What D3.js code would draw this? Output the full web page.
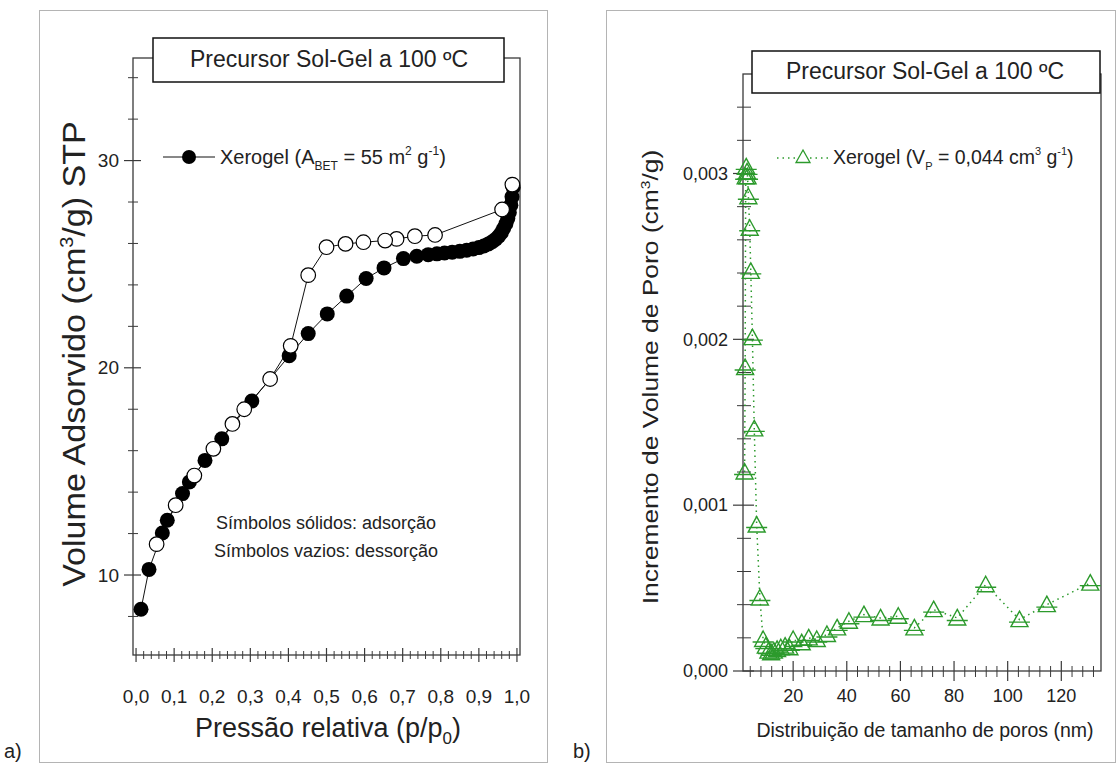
<!DOCTYPE html>
<html>
<head>
<meta charset="utf-8">
<script src="https://cdn.jsdelivr.net/npm/d3@7"></script>
<style>
  body { margin: 0; background: #fff; }
  text { font-family: "Liberation Sans", Arial, sans-serif; fill: #222; }
</style>
</head>
<body>
<div id="chart"></div>
<script>
// ---- data, panel a: N2 isotherm (relative pressure, volume)
var adsP = [0.013, 0.034, 0.069, 0.082, 0.122, 0.140, 0.181, 0.225, 0.304, 0.402, 0.452, 0.502,
            0.553, 0.604, 0.651, 0.702, 0.737, 0.767, 0.790, 0.810, 0.830, 0.850, 0.868, 0.885,
            0.900, 0.913, 0.925, 0.935, 0.944, 0.952, 0.959, 0.965, 0.971, 0.976, 0.980, 0.984,
            0.987, 0.990];
var adsV = [8.35, 10.27, 12.03, 12.64, 13.93, 14.49, 15.53, 16.57, 18.40, 20.58, 21.65, 22.60,
            23.46, 24.31, 24.82, 25.27, 25.38, 25.46, 25.50, 25.54, 25.58, 25.62, 25.67, 25.73,
            25.80, 25.88, 25.98, 26.08, 26.20, 26.35, 26.52, 26.72, 26.95, 27.20, 27.50, 27.85,
            28.25, 28.70];
var desP = [0.988, 0.961, 0.785, 0.732, 0.684, 0.654, 0.597, 0.550, 0.500, 0.452, 0.406, 0.352,
            0.284, 0.253, 0.203, 0.153, 0.104, 0.054];
var desV = [28.84, 27.64, 26.41, 26.35, 26.22, 26.14, 26.06, 25.98, 25.82, 24.47, 21.06, 19.46,
            18.00, 17.29, 16.09, 14.80, 13.37, 11.49];

// ---- data, panel b: pore size distribution
var poreD = [1.9, 2.1, 2.3, 2.5, 2.8, 3.0, 3.3, 3.8, 4.2, 4.8, 5.5, 6.4, 7.6, 8.8, 9.8, 10.8,
             11.8, 12.8, 14.0, 15.4, 17.0, 18.6, 20.0, 23.2, 25.8, 28.8, 32.6, 36.4, 40.8, 46.4,
             52.6, 59.2, 65.2, 72.4, 81.2, 91.8, 104.4, 114.6, 130.8];
var poreV = [0.00120, 0.00183, 0.00298, 0.00304, 0.00301, 0.00298, 0.00286, 0.00267, 0.00241,
             0.00201, 0.00146, 0.00088, 0.00044, 0.00019, 0.00015, 0.00012, 0.00011, 0.00012,
             0.00013, 0.00014, 0.00015, 0.00014, 0.00019, 0.00017, 0.00020, 0.00019, 0.00022,
             0.00026, 0.00030, 0.00034, 0.00032, 0.00033, 0.00026, 0.00037, 0.00032, 0.00052,
             0.00031, 0.00040, 0.00053];

// tick labels
var xTicksA = [0, 0.1, 0.2, 0.3, 0.4, 0.5, 0.6, 0.7, 0.8, 0.9, 1.0];
var yTicksA = [10, 20, 30];
var xTicksB = [20, 40, 60, 80, 100, 120];
var yTicksB = [0, 0.001, 0.002, 0.003];

var green = "#2c9a2c";
var comma = s => s.replace(".", ",");

var svg = d3.select("#chart")
  .append("svg")
    .attr("width", 1118)
    .attr("height", 766);

// panel frames (grey boxes)
svg.append("rect").attr("x", 39.5).attr("y", 10.5).attr("width", 508).attr("height", 752)
  .attr("fill", "none").attr("stroke", "#b4b4b4");
svg.append("rect").attr("x", 606.5).attr("y", 10.5).attr("width", 509).attr("height", 752)
  .attr("fill", "none").attr("stroke", "#b4b4b4");
svg.append("text").attr("x", 4).attr("y", 758).style("font-size", "20px").text("a)");
svg.append("text").attr("x", 573).attr("y", 758).style("font-size", "20px").text("b)");

// =================== panel a ===================
var xA = d3.scaleLinear().domain([-0.008, 1.008]).range([133, 520]);
var yA = d3.scaleLinear().domain([6.14, 34.95]).range([655, 58]);

var gA = svg.append("g");
gA.append("rect")
  .attr("x", xA.range()[0]).attr("y", yA.range()[1])
  .attr("width", xA.range()[1] - xA.range()[0])
  .attr("height", yA.range()[0] - yA.range()[1])
  .attr("fill", "none").attr("stroke", "#3a3a3a").attr("stroke-width", 1.3);

// x ticks, crossing the axis
var xMinorA = d3.range(0, 1.001, 0.02).filter(v => Math.round(v * 50) % 5 !== 0);
gA.selectAll(".xmin").data(xMinorA).enter().append("line")
  .attr("x1", d => xA(d)).attr("x2", d => xA(d))
  .attr("y1", 651).attr("y2", 659).attr("stroke", "#3a3a3a");
gA.selectAll(".xmaj").data(xTicksA).enter().append("line")
  .attr("x1", d => xA(d)).attr("x2", d => xA(d))
  .attr("y1", 648).attr("y2", 662).attr("stroke", "#3a3a3a").attr("stroke-width", 1.2);
gA.selectAll(".xlab").data(xTicksA).enter().append("text")
  .attr("x", d => xA(d)).attr("y", 703)
  .attr("text-anchor", "middle").style("font-size", "19px")
  .text(d => comma(d3.format(".1f")(d)));

// y ticks
var yMinorA = d3.range(8, 35, 2).filter(v => v % 10 !== 0);
gA.selectAll(".ymin").data(yMinorA).enter().append("line")
  .attr("x1", 128).attr("x2", 138)
  .attr("y1", d => yA(d)).attr("y2", d => yA(d)).attr("stroke", "#3a3a3a");
gA.selectAll(".ymaj").data(yTicksA).enter().append("line")
  .attr("x1", 124).attr("x2", 141)
  .attr("y1", d => yA(d)).attr("y2", d => yA(d)).attr("stroke", "#3a3a3a").attr("stroke-width", 1.2);
gA.selectAll(".ylab").data(yTicksA).enter().append("text")
  .attr("x", 119).attr("y", d => yA(d)).attr("dy", "0.35em")
  .attr("text-anchor", "end").style("font-size", "19px")
  .text(d => d);

// axis titles
var xtA = gA.append("text").attr("x", 328).attr("y", 737)
  .attr("text-anchor", "middle").style("font-size", "27px");
xtA.append("tspan").text("Pressão relativa (p/p");
xtA.append("tspan").attr("dy", 7).style("font-size", "17px").text("0");
xtA.append("tspan").attr("dy", -7).text(")");

// the y titles are drawn a little stretched along their length, as in the original
var ytA = gA.append("text")
  .attr("transform", "translate(85,354) rotate(-90) scale(1.1,1)")
  .attr("text-anchor", "middle").style("font-size", "31px");
ytA.append("tspan").text("Volume Adsorvido (cm");
ytA.append("tspan").attr("dy", -12).style("font-size", "18px").text("3");
ytA.append("tspan").attr("dy", 12).text("/g) STP");

// lines and markers
var lineA = d3.line().x(d => xA(d[0])).y(d => yA(d[1]));
var ads = adsP.map((p, i) => [p, adsV[i]]);
var des = desP.map((p, i) => [p, desV[i]]);
gA.append("path").datum(ads).attr("d", lineA)
  .attr("fill", "none").attr("stroke", "#111").attr("stroke-width", 1);
gA.append("path").datum(des).attr("d", lineA)
  .attr("fill", "none").attr("stroke", "#111").attr("stroke-width", 1);
gA.selectAll(".ads").data(ads).enter().append("circle")
  .attr("cx", d => xA(d[0])).attr("cy", d => yA(d[1])).attr("r", 7.5)
  .attr("fill", "#000");
gA.selectAll(".des").data(des).enter().append("circle")
  .attr("cx", d => xA(d[0])).attr("cy", d => yA(d[1])).attr("r", 7.3)
  .attr("fill", "#fff").attr("stroke", "#000").attr("stroke-width", 1.2);

// title box
gA.append("rect").attr("x", 153).attr("y", 38).attr("width", 351).attr("height", 44)
  .attr("fill", "#fff").attr("stroke", "#111").attr("stroke-width", 1.5);
gA.append("text").attr("x", 329).attr("y", 67).attr("text-anchor", "middle")
  .style("font-size", "23px").text("Precursor Sol-Gel a 100 ºC");

// legend
gA.append("line").attr("x1", 163).attr("x2", 215).attr("y1", 157).attr("y2", 157)
  .attr("stroke", "#111");
gA.append("circle").attr("cx", 189).attr("cy", 157).attr("r", 7).attr("fill", "#000");
var legA = gA.append("text").attr("x", 220).attr("y", 164).style("font-size", "20px");
legA.append("tspan").text("Xerogel (A");
legA.append("tspan").attr("dy", 6).style("font-size", "12px").text("BET");
legA.append("tspan").attr("dy", -6).text(" = 55 m");
legA.append("tspan").attr("dy", -9).style("font-size", "12px").text("2");
legA.append("tspan").attr("dy", 9).text(" g");
legA.append("tspan").attr("dy", -9).style("font-size", "12px").text("-1");
legA.append("tspan").attr("dy", 9).text(")");

gA.append("text").attr("x", 326).attr("y", 529).attr("text-anchor", "middle")
  .style("font-size", "18px").text("Símbolos sólidos: adsorção");
gA.append("text").attr("x", 326).attr("y", 557).attr("text-anchor", "middle")
  .style("font-size", "18px").text("Símbolos vazios: dessorção");

// =================== panel b ===================
var xB = d3.scaleLinear().domain([1.3, 134.8]).range([743, 1101]);
var yB = d3.scaleLinear().domain([0, 0.0036]).range([671, 74]);

var gB = svg.append("g");
gB.append("rect")
  .attr("x", xB.range()[0]).attr("y", yB.range()[1])
  .attr("width", xB.range()[1] - xB.range()[0])
  .attr("height", yB.range()[0] - yB.range()[1])
  .attr("fill", "none").attr("stroke", "#3a3a3a").attr("stroke-width", 1.3);

var xMinorB = d3.range(4, 134, 4).filter(v => v % 20 !== 0);
gB.selectAll(".xmin").data(xMinorB).enter().append("line")
  .attr("x1", d => xB(d)).attr("x2", d => xB(d))
  .attr("y1", 666).attr("y2", 677).attr("stroke", "#3a3a3a");
gB.selectAll(".xmaj").data(xTicksB).enter().append("line")
  .attr("x1", d => xB(d)).attr("x2", d => xB(d))
  .attr("y1", 661).attr("y2", 681).attr("stroke", "#3a3a3a").attr("stroke-width", 1.2);
gB.selectAll(".xlab").data(xTicksB).enter().append("text")
  .attr("x", d => xB(d)).attr("y", 702)
  .attr("text-anchor", "middle").style("font-size", "18px")
  .text(d => d);

var yMinorB = d3.range(1, 18).map(i => i * 0.0002).filter((v, i) => (i + 1) % 5 !== 0);
gB.selectAll(".ymin").data(yMinorB).enter().append("line")
  .attr("x1", 737).attr("x2", 751)
  .attr("y1", d => yB(d)).attr("y2", d => yB(d)).attr("stroke", "#3a3a3a");
gB.selectAll(".ymaj").data(yTicksB).enter().append("line")
  .attr("x1", 733).attr("x2", 754)
  .attr("y1", d => yB(d)).attr("y2", d => yB(d)).attr("stroke", "#3a3a3a").attr("stroke-width", 1.2);
gB.selectAll(".ylab").data(yTicksB).enter().append("text")
  .attr("x", 728).attr("y", d => yB(d)).attr("dy", "0.35em")
  .attr("text-anchor", "end").style("font-size", "18px")
  .text(d => comma(d3.format(".3f")(d)));

gB.append("text").attr("x", 925).attr("y", 737).attr("text-anchor", "middle")
  .style("font-size", "19.5px").text("Distribuição de tamanho de poros (nm)");
var ytB = gB.append("text")
  .attr("transform", "translate(658,377) rotate(-90) scale(1.2,1)")
  .attr("text-anchor", "middle").style("font-size", "22px");
ytB.append("tspan").text("Incremento de Volume de Poro (cm");
ytB.append("tspan").attr("dy", -8).style("font-size", "13px").text("3");
ytB.append("tspan").attr("dy", 8).text("/g)");

// dotted line + triangles
var pores = poreD.map((d, i) => [d, poreV[i]]);
var lineB = d3.line().x(d => xB(d[0])).y(d => yB(d[1]));
gB.append("path").datum(pores).attr("d", lineB)
  .attr("fill", "none").attr("stroke", green).attr("stroke-width", 1.5)
  .attr("stroke-dasharray", "1.5,4");
var tri = "M0,-8.5L8.5,7L-8.5,7Z M-10.5,2.5H10.5";
gB.selectAll(".tri").data(pores).enter().append("path")
  .attr("d", tri)
  .attr("transform", d => "translate(" + xB(d[0]) + "," + yB(d[1]) + ")")
  .attr("fill", "none").attr("stroke", green).attr("stroke-width", 1.4);

// title box
gB.append("rect").attr("x", 752).attr("y", 51).attr("width", 348).attr("height", 42)
  .attr("fill", "#fff").attr("stroke", "#111").attr("stroke-width", 1.5);
gB.append("text").attr("x", 925).attr("y", 79).attr("text-anchor", "middle")
  .style("font-size", "23px").text("Precursor Sol-Gel a 100 ºC");

// legend
gB.append("line").attr("x1", 777).attr("x2", 830).attr("y1", 158).attr("y2", 158)
  .attr("stroke", green).attr("stroke-width", 1.5).attr("stroke-dasharray", "1.5,4");
gB.append("path").attr("d", "M0,-7L7,5.5L-7,5.5Z")
  .attr("transform", "translate(803,157)")
  .attr("fill", "#fff").attr("stroke", green).attr("stroke-width", 1.3);
var legB = gB.append("text").attr("x", 833).attr("y", 164).style("font-size", "19.5px");
legB.append("tspan").text("Xerogel (V");
legB.append("tspan").attr("dy", 6).style("font-size", "11px").text("P");
legB.append("tspan").attr("dy", -6).text(" = 0,044 cm");
legB.append("tspan").attr("dy", -9).style("font-size", "11px").text("3");
legB.append("tspan").attr("dy", 9).text(" g");
legB.append("tspan").attr("dy", -9).style("font-size", "11px").text("-1");
legB.append("tspan").attr("dy", 9).text(")");
</script>
</body>
</html>
